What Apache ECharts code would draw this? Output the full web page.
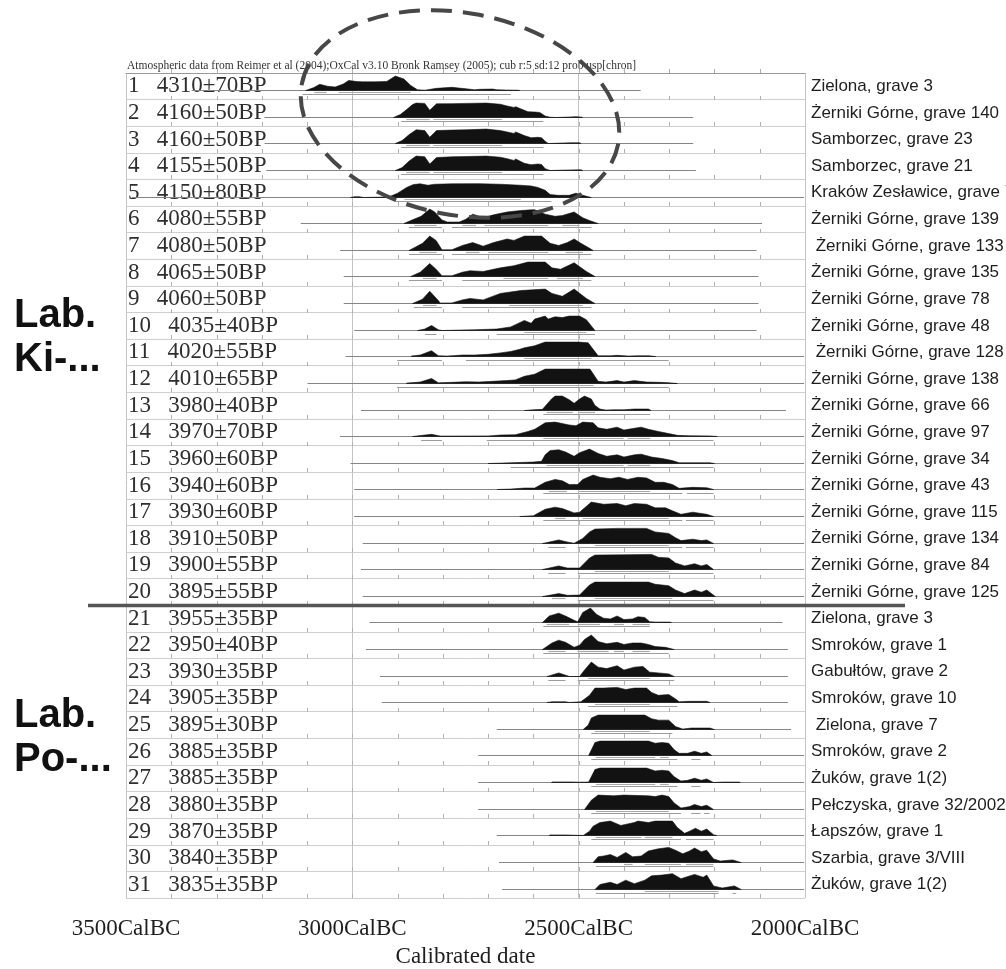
<!DOCTYPE html>
<html>
<head>
<meta charset="utf-8">
<script src="https://cdn.jsdelivr.net/npm/echarts@6/dist/echarts.min.js"></script>
<style>html,body{margin:0;padding:0;background:#fff;}#chart{width:1006px;height:969px;}</style>
</head>
<body>
<div id="chart"></div>
<script>
// ---------- DATA ----------
const bpDates = ["4310±70","4160±50","4160±50","4155±50","4150±80","4080±55","4080±50","4065±50","4060±50","4035±40",
  "4020±55","4010±65","3980±40","3970±70","3960±60","3940±60","3930±60","3910±50","3900±55","3895±55",
  "3955±35","3950±40","3930±35","3905±35","3895±30","3885±35","3885±35","3880±35","3870±35","3840±35","3835±35"];
const siteNames = ["Zielona, grave 3","Żerniki Górne, grave 140","Samborzec, grave 23","Samborzec, grave 21","Kraków Zesławice, grave 7",
  "Żerniki Górne, grave 139"," Żerniki Górne, grave 133","Żerniki Górne, grave 135","Żerniki Górne, grave 78","Żerniki Górne, grave 48",
  " Żerniki Górne, grave 128","Żerniki Górne, grave 138","Żerniki Górne, grave 66","Żerniki Górne, grave 97","Żerniki Górne, grave 34",
  "Żerniki Górne, grave 43","Żerniki Górne, grave 115","Żerniki Górne, grave 134","Żerniki Górne, grave 84","Żerniki Górne, grave 125",
  "Zielona, grave 3","Smroków, grave 1","Gabułtów, grave 2","Smroków, grave 10"," Zielona, grave 7",
  "Smroków, grave 2","Żuków, grave 1(2)","Pełczyska, grave 32/2002","Łapszów, grave 1","Szarbia, grave 3/VIII","Żuków, grave 1(2)"];
const tickYears = [3400,3300,3200,3100,3000,2900,2800,2700,2600,2500,2400,2300,2200,2100];

// extent of each row's thin line (cal BC)
const lineStart = [3355,3194,3194,3190,3487,3114,3027,3019,3019,2996,3015,3099,2981,3027,3004,2996,2996,2977,2981,2977,2962,2970,2939,2935,2681,2722,2722,2722,2681,2676,2669];
const lineEnd   = [2363,2247,2247,2241,2002,2095,2107,2103,2103,2107,2002,2002,2042,2002,2002,2002,2002,2002,2002,2002,2050,2038,2038,2038,2031,2002,2002,2002,2002,2002,2002];

// 68.2% and 95.4% ranges
const range68 = [
 [[3084,3057],[3030,2871]],
 [[2881,2829],[2821,2669]],
 [[2881,2829],[2821,2669]],
 [[2881,2829],[2821,2669]],
 [[2885,2628]],
 [[2863,2814],[2757,2727],[2708,2567],[2536,2498]],
 [[2852,2814],[2749,2719],[2700,2567],[2529,2491]],
 [[2844,2814],[2666,2567],[2548,2491]],
 [[2844,2814],[2654,2491]],
 [[2620,2483]],
 [[2620,2472]],
 [[2631,2467]],
 [[2571,2513],[2500,2464]],
 [[2578,2401],[2392,2342]],
 [[2571,2401],[2392,2342]],
 [[2566,2526],[2500,2342]],
 [[2552,2529],[2491,2301]],
 [[2464,2301]],
 [[2464,2301]],
 [[2559,2529],[2464,2293]],
 [[2571,2521],[2502,2453],[2422,2400],[2381,2343]],
 [[2567,2529],[2502,2434],[2422,2400],[2381,2343]],
 [[2479,2343]],
 [[2464,2343]],
 [[2464,2343]],
 [[2462,2331],[2320,2301]],
 [[2462,2331],[2320,2301]],
 [[2462,2301]],
 [[2462,2362],[2354,2293]],
 [[2400,2381],[2354,2274],[2263,2202]],
 [[2354,2191]]
];
const range95 = [
 [[3110,2650]],
 [[2892,2578]],
 [[2892,2578]],
 [[2892,2578]],
 [[2905,2560]],
 [[2875,2802],[2780,2472]],
 [[2875,2802],[2780,2472]],
 [[2875,2802],[2757,2472]],
 [[2864,2802],[2757,2472]],
 [[2840,2814],[2681,2464]],
 [[2901,2802],[2749,2301]],
 [[2901,2301]],
 [[2578,2342]],
 [[2848,2802],[2703,2202]],
 [[2650,2202]],
 [[2578,2271],[2261,2202]],
 [[2578,2271],[2263,2202]],
 [[2567,2529],[2502,2271],[2263,2202]],
 [[2567,2529],[2502,2202]],
 [[2502,2202]],
 [[2578,2343]],
 [[2578,2301]],
 [[2567,2529],[2502,2289]],
 [[2479,2282]],
 [[2472,2293]],
 [[2472,2282],[2251,2231]],
 [[2472,2282],[2251,2231]],
 [[2472,2274],[2251,2231],[2223,2211]],
 [[2472,2274],[2263,2202]],
 [[2462,2202]],
 [[2462,2191],[2160,2152]]
];

// probability distributions: [cal BC, relative height]
const d01 = [[3103,0],[3085,2],[3072,4.3],[3055,3],[3038,2.4],[3020,4.5],[3008,7],[2990,6.2],[2977,6],[2950,6],[2924,6.3],[2905,10],[2886,8],[2871,3.5],[2856,0.5],[2840,0.2],[2814,1.5],[2780,2.2],[2749,1.2],[2730,0.5],[2719,0.8],[2690,1],[2681,0.5],[2660,0.3],[2635,0.2],[2630,0]];
const d02 = [[2909,0],[2894,2],[2878,6],[2867,9],[2859,10],[2840,9.8],[2829,5],[2814,9.5],[2780,9.6],[2749,9.8],[2704,10],[2673,9.2],[2658,8],[2643,7],[2639,7.5],[2628,6],[2612,4],[2597,3.8],[2586,3.5],[2574,1],[2563,0.2],[2550,0],[2521,0.3],[2506,0.6],[2495,0.3],[2491,0]];
const d03 = [[2905,0],[2890,2],[2875,6],[2859,9.5],[2840,9],[2829,4.3],[2814,9],[2780,9.3],[2749,9.5],[2704,10],[2673,9],[2658,8],[2643,7],[2639,8],[2620,5.5],[2605,4],[2590,4.3],[2582,4],[2574,1.5],[2567,0],[2517,0.5],[2498,0.5],[2495,0]];
const d04 = [[2905,0],[2890,2],[2875,6.5],[2859,10],[2840,9.5],[2829,4.5],[2814,9],[2780,9.5],[2749,9.7],[2704,10],[2673,9.2],[2658,8.2],[2643,7],[2639,8],[2620,5],[2605,4],[2590,4.5],[2582,4.2],[2574,1.3],[2563,0],[2517,0.4],[2495,0.5],[2491,0]];
const d05 = [[3004,0],[2995,0.6],[2985,0.6],[2975,0],[2930,0.3],[2916,0.8],[2900,3],[2880,7],[2865,9],[2850,9.5],[2833,8.5],[2818,9.2],[2780,9.5],[2720,9.6],[2673,9.2],[2628,8.5],[2605,8],[2590,7],[2574,5],[2563,2],[2545,1.5],[2521,1.5],[2506,3],[2491,1.5],[2472,0]];
const d06 = [[2886,0],[2871,2],[2848,5],[2829,10],[2818,8],[2802,2.5],[2790,1],[2764,1],[2749,3],[2734,6.5],[2711,4],[2688,6],[2658,8],[2628,9],[2605,9.5],[2597,9.5],[2574,6.5],[2552,5],[2536,5.5],[2510,8],[2491,4],[2476,2],[2457,0]];
const d07 = [[2875,0],[2860,2.5],[2845,5],[2829,10],[2815,7],[2802,0.5],[2780,0.5],[2757,3.5],[2734,5.5],[2711,3],[2688,5.5],[2658,8],[2643,7],[2620,10],[2582,10],[2563,5],[2544,3.5],[2525,5.5],[2510,8],[2495,5],[2472,0.8],[2468,0]];
const d08 = [[2871,0],[2850,3],[2829,9],[2815,5],[2802,0.5],[2780,0.5],[2757,3],[2740,4],[2711,3.5],[2673,6],[2643,7.5],[2612,10],[2574,10],[2559,6],[2540,5],[2510,9.5],[2483,3.5],[2464,0]];
const d09 = [[2867,0],[2845,3],[2829,8.5],[2810,2],[2806,0.3],[2780,0.4],[2757,2.5],[2740,3.5],[2711,2.5],[2673,7],[2628,9],[2574,10],[2559,7],[2536,5],[2510,10],[2483,3.5],[2464,0]];
const d10 = [[2856,0],[2840,1],[2825,3.5],[2810,0.5],[2802,0],[2760,0.3],[2730,0.5],[2681,1],[2650,2.5],[2620,7],[2605,5],[2597,8],[2574,10],[2567,8],[2552,9.5],[2536,9],[2521,10],[2498,10],[2483,7.5],[2464,0]];
const d11 = [[2870,0.3],[2850,1],[2825,4],[2810,0.5],[2790,0.3],[2757,1],[2730,1],[2700,1.5],[2673,2.5],[2650,3.5],[2630,5],[2620,6],[2597,7.5],[2574,10],[2530,10],[2500,10],[2479,9.5],[2468,5],[2457,0.5],[2430,0.5],[2415,0.8],[2390,0.3],[2370,0.5],[2345,0.5],[2330,0]];
const d12 = [[2880,0.3],[2850,1],[2825,3.5],[2810,0.5],[2780,0.8],[2750,1.2],[2720,1],[2690,1.5],[2660,2],[2640,2.5],[2620,5],[2597,6.5],[2574,10],[2540,10],[2500,10],[2475,10],[2457,1.5],[2440,1],[2415,2],[2400,1],[2377,2],[2350,1],[2320,0.8],[2300,0.5],[2282,0]];
const d13 = [[2620,0],[2600,0.5],[2580,0.8],[2574,3],[2560,8],[2552,10],[2536,10],[2521,7.5],[2510,5],[2498,8],[2487,10],[2472,8],[2464,3.5],[2453,1],[2440,0.3],[2422,0.5],[2400,0.5],[2377,1],[2346,1],[2340,0]];
const d14 = [[2867,0],[2845,0.8],[2825,1.5],[2806,0.3],[2780,0.3],[2700,0.4],[2673,1],[2640,1.2],[2612,3.5],[2597,5],[2574,9.5],[2552,10],[2521,8],[2506,7.5],[2491,10],[2468,9.5],[2457,6],[2438,5],[2415,6.5],[2400,4.5],[2381,5.5],[2362,6.5],[2346,5],[2324,3.5],[2301,2],[2282,0.8],[2255,0.5],[2210,0.4],[2194,0]];
const d15 = [[2700,0],[2650,0.5],[2600,1],[2582,1.5],[2574,6],[2563,9],[2544,9.5],[2529,8],[2510,5],[2498,7.5],[2476,10],[2457,7],[2438,5],[2415,6],[2400,4.5],[2377,6],[2362,6.5],[2339,4.5],[2316,3.5],[2293,2],[2278,0.5],[2250,0.5],[2210,0.5],[2200,0]];
const d16 = [[2680,0],[2650,0.3],[2620,1],[2597,1],[2574,5],[2552,7],[2536,6],[2521,3.5],[2502,3.5],[2491,7],[2468,10],[2453,8.5],[2430,7.5],[2411,8.5],[2392,7],[2369,8.5],[2350,8],[2331,5],[2312,5],[2293,3.5],[2278,0.8],[2248,1.5],[2217,1.2],[2202,0]];
const d17 = [[2630,0],[2600,0.5],[2574,5],[2552,6.5],[2536,5.5],[2510,2.5],[2498,3],[2472,10],[2445,8.5],[2415,9],[2396,7.5],[2377,9],[2350,8.5],[2331,6],[2308,6],[2293,4],[2274,1.5],[2248,3],[2217,1.5],[2202,0]];
const d18 = [[2580,0],[2565,1],[2544,2.5],[2525,1],[2510,0.2],[2491,3.5],[2476,8],[2464,10],[2415,10.5],[2369,10.5],[2350,10.5],[2331,8],[2316,7.5],[2301,7],[2286,4],[2274,2],[2248,3],[2229,2],[2217,2.5],[2202,0]];
const d19 = [[2580,0],[2565,1],[2544,2.5],[2525,1],[2498,1],[2476,8],[2464,10],[2400,10.2],[2339,10.5],[2324,8.5],[2301,8],[2286,4.5],[2266,2.5],[2244,4],[2229,2.5],[2217,3.5],[2202,0]];
const d20 = [[2580,0],[2565,0.8],[2544,2],[2525,0.8],[2498,1],[2476,8],[2464,10],[2400,10],[2346,10],[2331,8.5],[2301,7.5],[2286,4.5],[2266,2],[2244,4.5],[2229,3],[2217,4.5],[2198,0]];
const d21 = [[2580,0],[2565,4.5],[2544,6.5],[2529,4.5],[2510,1.5],[2502,0.5],[2491,7],[2474,10],[2460,5.5],[2445,3],[2430,2.5],[2415,4.5],[2400,2],[2381,2.5],[2369,4],[2354,3.5],[2343,0.5],[2331,0.3],[2300,0.3],[2295,0]];
const d22 = [[2580,0],[2559,4.5],[2544,6.5],[2529,5],[2510,1.5],[2498,3],[2487,7],[2472,10],[2457,5.5],[2438,4],[2415,5],[2400,3.5],[2381,4.5],[2362,4.5],[2346,3.5],[2331,2],[2308,1.5],[2289,0]];
const d23 = [[2570,0],[2544,2.5],[2520,0],[2498,0],[2487,4.5],[2472,10],[2457,6.5],[2438,5.5],[2415,7.5],[2400,4.5],[2377,6.5],[2358,7],[2343,3],[2324,2.5],[2301,1.8],[2289,0]];
const d24 = [[2570,0],[2559,0.5],[2529,0.5],[2520,0],[2495,0.5],[2476,5],[2464,10],[2445,10],[2415,10.5],[2396,9],[2377,10],[2350,10],[2339,7],[2324,5],[2301,5.5],[2286,2.5],[2278,0.5],[2255,0.8],[2217,0.8],[2210,0]];
const d25 = [[2490,0],[2479,3],[2472,8],[2457,10],[2354,10],[2339,7.5],[2324,6.5],[2301,6.5],[2286,2],[2270,0.3],[2251,1],[2210,1],[2200,0]];
const d26 = [[2478,0],[2464,9],[2453,10],[2346,10],[2331,8.5],[2316,9],[2301,8.5],[2289,4],[2278,1.5],[2259,1.5],[2244,3],[2229,1.5],[2217,2.5],[2206,0]];
const d27 = [[2560,0],[2558,0.4],[2517,0.4],[2500,0.2],[2478,0.3],[2464,9],[2453,10],[2350,10],[2331,8],[2316,8.5],[2301,8],[2289,4],[2274,1],[2259,1.5],[2244,3],[2229,1.5],[2217,2.5],[2202,0],[2180,0.3],[2145,0.3],[2143,0]];
const d28 = [[2487,0],[2472,6.5],[2457,10],[2422,9.5],[2400,10],[2346,9.5],[2331,9],[2316,10],[2301,9],[2289,4.5],[2274,1],[2255,2],[2244,3.5],[2229,2],[2217,3],[2202,0]];
const d29 = [[2565,0],[2563,0.4],[2530,0.4],[2490,0],[2476,3],[2468,6.5],[2453,9],[2430,10],[2407,7],[2377,9],[2369,10],[2346,9],[2331,10],[2293,10],[2282,5.5],[2266,1.5],[2255,3],[2242,5],[2229,3],[2217,4.5],[2202,0.5],[2195,0]];
const d30 = [[2468,0],[2457,4],[2445,4.5],[2430,5.5],[2415,3.5],[2396,7],[2381,4],[2362,4.5],[2346,8],[2324,9.5],[2301,10.5],[2286,8.5],[2270,6],[2255,8],[2244,10],[2229,7.5],[2217,8.5],[2202,2.5],[2187,1],[2160,1.8],[2141,0]];
const d31 = [[2464,0],[2453,3.5],[2430,5],[2415,3.5],[2396,6.5],[2377,4],[2354,6.5],[2339,9.5],[2316,10],[2293,11],[2274,7.5],[2259,9],[2244,10.5],[2225,8.5],[2217,10],[2202,2.5],[2183,1],[2156,2.5],[2141,0]];
const distributions = [d01,d02,d03,d04,d05,d06,d07,d08,d09,d10,d11,d12,d13,d14,d15,d16,d17,d18,d19,d20,d21,d22,d23,d24,d25,d26,d27,d28,d29,d30,d31];

// ---------- LAYOUT / STYLE ----------
const ROWS = bpDates.length;
const GRID = {left: 126, right: 201, top: 73, height: 825};
const BASE_FRAC = 0.645;   // baseline position inside a row
const H_UNIT = 1.44;       // px per height unit
const TICK_LEN = 4;

const chart = echarts.init(document.getElementById('chart'), null, {renderer: 'canvas'});

function renderRow(params, api) {
  const i = api.value(1);
  const yTop = api.coord([3500, i])[1];
  const yBot = api.coord([3500, i + 1])[1];
  const yb = Math.round(yTop + (yBot - yTop) * BASE_FRAC) + 0.5;
  const px = yr => api.coord([yr, i])[0];
  const kids = [];
  const tickRows = (i === ROWS - 1) ? [yTop, yBot] : [yTop];
  tickRows.forEach(ty => {
    const t = Math.round(ty);
    tickYears.forEach(yr => {
      const x = Math.round(px(yr)) + 0.5;
      kids.push({type: 'line', shape: {x1: x, y1: t, x2: x, y2: t - TICK_LEN}, style: {stroke: '#b0b0b0', lineWidth: 1}});
    });
  });
  kids.push({type: 'line', shape: {x1: px(lineStart[i]), y1: yb, x2: px(lineEnd[i]), y2: yb}, style: {stroke: '#858585', lineWidth: 1}});
  range68[i].forEach(([a, b]) => kids.push({type: 'line', shape: {x1: px(a), y1: yb + 2, x2: px(b), y2: yb + 2}, style: {stroke: '#aaaaaa', lineWidth: 1.2}}));
  range95[i].forEach(([a, b]) => kids.push({type: 'line', shape: {x1: px(a), y1: yb + 4, x2: px(b), y2: yb + 4}, style: {stroke: '#9c9c9c', lineWidth: 1}}));
  const d = distributions[i];
  const pts = [[px(d[0][0]), yb]];
  d.forEach(([yr, h]) => pts.push([px(yr), yb - h * H_UNIT]));
  pts.push([px(d[d.length - 1][0]), yb]);
  kids.push({type: 'polygon', shape: {points: pts}, style: {fill: '#121212', stroke: '#121212', lineWidth: 0.6}});
  return {type: 'group', children: kids};
}

const option = {
  backgroundColor: '#ffffff',
  animation: false,
  grid: {left: GRID.left, right: GRID.right, top: GRID.top, height: GRID.height, show: false,
         containLabel: false, outerBoundsMode: 'none'},
  xAxis: {
    type: 'value', min: 2000, max: 3500, interval: 500, inverse: true,
    axisLine: {show: true, lineStyle: {color: '#9a9a9a', width: 1}},
    axisTick: {show: false},
    axisLabel: {formatter: v => v + 'CalBC', fontFamily: 'Liberation Serif', fontSize: 23, color: '#1e1e1e', margin: 19},
    splitLine: {show: true, lineStyle: {color: '#c4c4c4', width: 1}},
    name: 'Calibrated date', nameLocation: 'middle', nameGap: 47,
    nameTextStyle: {fontFamily: 'Liberation Serif', fontSize: 23, color: '#1e1e1e'}
  },
  yAxis: [
    {type: 'value', min: 0, max: ROWS, interval: 1, inverse: true,
     axisLine: {show: false}, axisTick: {show: false}, axisLabel: {show: false},
     splitLine: {show: true, lineStyle: {color: '#cfcfcf', width: 1}}},
    {type: 'category', position: 'left', inverse: true,
     data: bpDates.map((b, i) => (i + 1) + '   ' + b + 'BP'),
     axisLine: {show: false}, axisTick: {show: false}, splitLine: {show: false},
     axisLabel: {inside: true, align: 'left', margin: 2, interval: 0, fontFamily: 'Liberation Serif', fontSize: 23, color: '#2e2e2e'}},
    {type: 'category', position: 'right', inverse: true, data: siteNames,
     axisLine: {show: false}, axisTick: {show: false}, splitLine: {show: false},
     axisLabel: {margin: 6, interval: 0, fontFamily: 'Liberation Sans', fontSize: 17, color: '#1e1e1e', padding: [6, 0, 0, 0]}}
  ],
  series: [{
    type: 'custom', xAxisIndex: 0, yAxisIndex: 0, renderItem: renderRow, clip: false,
    data: bpDates.map((b, i) => [3500, i]), z: 5
  }],
  graphic: [
    {type: 'text', left: 127, top: 60, z: 50,
     style: {text: 'Atmospheric data from Reimer et al (2004);OxCal v3.10 Bronk Ramsey (2005); cub r:5 sd:12 prob usp[chron]',
             font: '11.5px "Liberation Serif"', fill: '#333'}},
    {type: 'line', z: 60, shape: {x1: 88, y1: 605.5, x2: 905, y2: 605.5}, style: {stroke: '#555555', lineWidth: 3.5}},
    {type: 'ellipse', z: 70, x: 460, y: 114, rotation: -0.19,
     shape: {cx: 0, cy: 0, rx: 161, ry: 101},
     style: {fill: 'none', stroke: '#474747', lineWidth: 4, lineDash: [21, 11]}},
    {type: 'text', z: 50, x: 14, y: 316, style: {text: 'Lab.', font: 'bold 40px "Liberation Sans"', fill: '#111', textVerticalAlign: 'middle'}},
    {type: 'text', z: 50, x: 14, y: 360, style: {text: 'Ki-...', font: 'bold 40px "Liberation Sans"', fill: '#111', textVerticalAlign: 'middle'}},
    {type: 'text', z: 50, x: 14, y: 716, style: {text: 'Lab.', font: 'bold 40px "Liberation Sans"', fill: '#111', textVerticalAlign: 'middle'}},
    {type: 'text', z: 50, x: 14, y: 760, style: {text: 'Po-...', font: 'bold 40px "Liberation Sans"', fill: '#111', textVerticalAlign: 'middle'}}
  ]
};
chart.setOption(option);
</script>
</body>
</html>
